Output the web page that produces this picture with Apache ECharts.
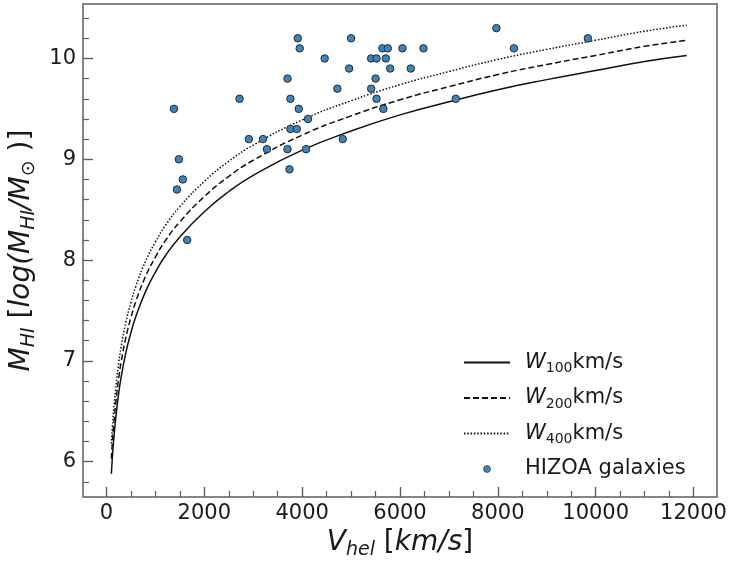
<!DOCTYPE html>
<html>
<head>
<meta charset="utf-8">
<script src="https://cdn.jsdelivr.net/npm/echarts@6/dist/echarts.min.js"></script>
<style>html,body{margin:0;padding:0;background:#fff;}#c{width:731px;height:561px;}</style>
</head>
<body>
<div id="c"></div>
<script>
// Galaxy points
const galaxyV = [1380,1480,1560,1440,1650,2720,2910,3200,3280,3700,3760,3930,4120,3760,3890,3700,4080,3740,3910,3950,4460,5000,4960,4720,4830,5410,5520,5640,5750,5710,5800,5500,5410,5520,5660,6050,6480,6220,7970,8330,9840,7140];
const galaxyM = [9.5,9.0,8.8,8.7,8.2,9.6,9.2,9.2,9.1,9.8,9.6,9.5,9.4,9.3,9.3,9.1,9.1,8.9,10.2,10.1,10.0,10.2,9.9,9.7,9.2,10.0,10.0,10.1,10.1,10.0,9.9,9.8,9.7,9.6,9.5,10.1,10.1,9.9,10.3,10.1,10.2,9.6];
// Limit curves
const curveV = [100,120,150,200,250,300,400,500,600,800,1000,1200,1500,2000,2500,3000,4000,5000,6000,7000,8000,9000,10000,11000,11860];
const w100 = [5.88,6.04,6.23,6.48,6.68,6.84,7.09,7.28,7.44,7.69,7.88,8.04,8.23,8.48,8.68,8.84,9.09,9.28,9.44,9.57,9.69,9.79,9.88,9.97,10.03];
const w200 = [6.03,6.19,6.38,6.63,6.83,6.99,7.24,7.43,7.59,7.84,8.03,8.19,8.38,8.63,8.83,8.99,9.24,9.43,9.59,9.72,9.84,9.94,10.03,10.12,10.18];
const w400 = [6.18,6.34,6.53,6.78,6.98,7.14,7.39,7.58,7.74,7.99,8.18,8.34,8.53,8.78,8.98,9.14,9.39,9.58,9.74,9.87,9.99,10.09,10.18,10.27,10.33];
// Ticks
const xMajor = [0,2000,4000,6000,8000,10000,12000];
const xMinor = [500,1000,1500,2500,3000,3500,4500,5000,5500,6500,7000,7500,8500,9000,9500,10500,11000,11500];
const yMajor = [6,7,8,9,10];
const yMinor = [5.8,6.2,6.4,6.6,6.8,7.2,7.4,7.6,7.8,8.2,8.4,8.6,8.8,9.2,9.4,9.6,9.8,10.2,10.4];
const seriesNames = ['W100','W200','W400','HIZOA galaxies'];

const FONT = 'DejaVu Sans';
const TXT = '#1a1a1a';
const TICK = '#5e5e5e';
const xMin = -480, xMax = 12480, yMin = 5.65, yMax = 10.54;
const G = {left: 83, top: 4, width: 634, height: 493};

const zip = (a, b) => a.map((v, i) => [v, b[i]]);

const chart = echarts.init(document.getElementById('c'), null, {renderer: 'canvas'});
const lineBase = (name, vals, dash) => ({
  name: name, type: 'line', data: zip(curveV, vals), symbol: 'none', showSymbol: false, smooth: true,
  xAxisIndex: 0, yAxisIndex: 0,
  lineStyle: {color: '#111', width: 1.5, type: dash}, itemStyle: {color: '#111'}, z: 2, silent: true
});

chart.setOption({
  animation: false,
  backgroundColor: '#fff',
  grid: [
    Object.assign({show: true, borderColor: '#858585', borderWidth: 2, backgroundColor: 'transparent', containLabel: false, outerBoundsMode: 'none'}, G),
    Object.assign({show: false, containLabel: false, outerBoundsMode: 'none'}, G)
  ],
  xAxis: [{
    type: 'value', min: xMin, max: xMax, gridIndex: 0, position: 'bottom',
    name: '{v|V}{s|hel}{n| [}{v|km/s}{n|]}', nameLocation: 'middle', nameGap: 28,
    nameTextStyle: {fontFamily: FONT, color: TXT, fontSize: 28,
      rich: {v: {fontFamily: FONT, fontStyle: 'italic', fontSize: 28, color: TXT, lineHeight: 34},
             n: {fontFamily: FONT, fontSize: 28, color: TXT, lineHeight: 34},
             s: {fontFamily: FONT, fontStyle: 'italic', fontSize: 19, color: TXT, lineHeight: 20, verticalAlign: 'bottom'}}},
    axisLine: {show: false, onZero: false}, splitLine: {show: false},
    axisTick: {show: true, inside: true, length: 10, customValues: xMajor, lineStyle: {color: TICK, width: 1.4}},
    axisLabel: {show: true, customValues: xMajor, margin: 6, fontFamily: FONT, fontSize: 21, color: TXT, formatter: (v) => String(v)}
  }, {
    type: 'value', min: xMin, max: xMax, gridIndex: 1, position: 'bottom',
    axisLine: {show: false, onZero: false}, splitLine: {show: false}, axisLabel: {show: false},
    axisTick: {show: true, inside: true, length: 6, customValues: xMinor, lineStyle: {color: TICK, width: 1.2}}
  }],
  yAxis: [{
    type: 'value', min: yMin, max: yMax, gridIndex: 0, position: 'left',
    name: '{m|M}{s|HI}{n| [}{m|log(M}{s|HI}{m|/M}{s|⊙}{n| )]}', nameLocation: 'middle', nameGap: 36, nameRotate: 90,
    nameTextStyle: {fontFamily: FONT, color: TXT, fontSize: 28,
      rich: {m: {fontFamily: FONT, fontStyle: 'italic', fontSize: 28, color: TXT, lineHeight: 34},
             n: {fontFamily: FONT, fontSize: 28, color: TXT, lineHeight: 34},
             s: {fontFamily: FONT, fontStyle: 'italic', fontSize: 19, color: TXT, lineHeight: 20, verticalAlign: 'bottom'}}},
    axisLine: {show: true, onZero: false, lineStyle: {color: '#858585', width: 2}}, splitLine: {show: false},
    axisTick: {show: true, inside: true, length: 10, customValues: yMajor, lineStyle: {color: TICK, width: 1.4}},
    axisLabel: {show: true, customValues: yMajor, margin: 7, fontFamily: FONT, fontSize: 21, color: TXT, formatter: (v) => String(v)}
  }, {
    type: 'value', min: yMin, max: yMax, gridIndex: 1, position: 'left',
    axisLine: {show: false, onZero: false}, splitLine: {show: false}, axisLabel: {show: false},
    axisTick: {show: true, inside: true, length: 6, customValues: yMinor, lineStyle: {color: TICK, width: 1.2}}
  }],
  legend: {
    orient: 'vertical', left: 458, top: 347, itemWidth: 46, itemHeight: 7, itemGap: 12,
    data: [
      {name: seriesNames[0], itemStyle: {opacity: 0}}, {name: seriesNames[1], itemStyle: {opacity: 0}}, {name: seriesNames[2], itemStyle: {opacity: 0}},
      {name: seriesNames[3], icon: 'circle', itemStyle: {color: '#3d84bb', borderColor: '#2a2a2a', borderWidth: 0.6}}
    ],
    formatter: function (name) {
      if (name.charAt(0) === 'W') return '{w|W}{s|' + name.slice(1) + '}{n|km/s}';
      return '{n|' + name + '}';
    },
    textStyle: {fontFamily: FONT, fontSize: 21, color: TXT, padding: [0, 0, 0, 10],
      rich: {w: {fontFamily: FONT, fontStyle: 'italic', fontSize: 21, color: TXT, lineHeight: 26},
             n: {fontFamily: FONT, fontSize: 21, color: TXT, lineHeight: 26},
             s: {fontFamily: FONT, fontSize: 14, color: TXT, lineHeight: 15, verticalAlign: 'bottom'}}},
    selectedMode: false
  },
  series: [
    lineBase(seriesNames[0], w100, 'solid'),
    lineBase(seriesNames[1], w200, [6, 3]),
    lineBase(seriesNames[2], w400, [1.5, 1.8]),
    {
      name: seriesNames[3], type: 'scatter', data: zip(galaxyV, galaxyM), symbol: 'circle', symbolSize: 7.5,
      xAxisIndex: 0, yAxisIndex: 0,
      itemStyle: {color: '#3d84bb', borderColor: '#2a2a2a', borderWidth: 1, opacity: 1}, z: 5, silent: true
    }
  ]
});
</script>
</body>
</html>
